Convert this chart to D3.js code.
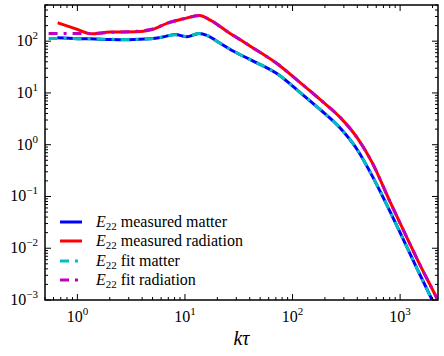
<!DOCTYPE html>
<html><head><meta charset="utf-8">
<script src="https://cdn.jsdelivr.net/npm/d3@7"></script>
<style>html,body{margin:0;padding:0;background:#fff;}svg{display:block;}</style>
</head><body>
<script>
// ---- data ----
const kMeasMatter = [0.65, 1.0, 1.32, 2.0, 3.0, 4.76, 6.2, 8.1, 10.4, 13.5, 16, 19.8, 28.3, 40.5, 71.5, 117, 180, 277, 400, 550, 712, 1000, 1400, 1985, 2400];
const eMeasMatter = [116, 112, 111, 108, 107, 111, 120, 135, 122, 141, 130, 100, 64, 44, 23.7, 10.3, 4.8, 2.1, 0.8, 0.25, 0.087, 0.02, 0.0045, 0.001, 0.00045];
const kMeasRad = [0.656, 1.0, 1.32, 2.02, 3.58, 4.76, 7.3, 9.7, 13.7, 17.2, 24.5, 40.5, 71.5, 117, 180, 280, 400, 550, 789, 1100, 1550, 2233, 2500];
const eMeasRad = [227, 169, 139, 150, 152, 165, 233, 271, 314, 255, 156, 80, 37, 16, 7.5, 3.3, 1.35, 0.45, 0.087, 0.02, 0.0045, 0.001, 0.0006];
const kFitMatter = [0.54, 1.0, 2.0, 3.0, 4.76, 6.2, 8.1, 10.4, 13.5, 16, 19.8, 28.3, 40.5, 71.5, 117, 180, 277, 400, 550, 712, 1000, 1400, 1985, 2400];
const eFitMatter = [113, 112, 109, 108, 111, 120, 133, 124, 140, 130, 100, 64, 44, 23.7, 10.3, 4.8, 2.1, 0.8, 0.25, 0.087, 0.02, 0.0045, 0.001, 0.00045];
const kFitRad = [0.54, 1.0, 1.32, 2.02, 3.58, 4.76, 7.3, 9.7, 13.7, 17.2, 24.5, 40.5, 71.5, 117, 180, 280, 400, 550, 789, 1100, 1550, 2233, 2500];
const eFitRad = [141, 140, 140, 148, 155, 168, 232, 270, 312, 255, 156, 80, 37, 16, 7.5, 3.3, 1.35, 0.45, 0.087, 0.02, 0.0045, 0.001, 0.0006];
const xTickExps = [0, 1, 2, 3];
const yTickExps = [-3, -2, -1, 0, 1, 2];
const legendLabels = ["measured matter", "measured radiation", "fit matter", "fit radiation"];
const seriesColors = ["#0000ff", "#ff0000", "#00bfbf", "#bf00bf"];

const W = 444, H = 356;
const m = {left: 45, right: 438, top: 5, bottom: 300};
const svg = d3.select("body").append("svg").attr("width", W).attr("height", H);
const x = d3.scaleLog().domain([0.5, 2250]).range([m.left, m.right]);
const y = d3.scaleLog().domain([1e-3, 500]).range([m.bottom, m.top]);

svg.append("clipPath").attr("id", "clip").append("rect")
  .attr("x", m.left).attr("y", m.top).attr("width", m.right - m.left).attr("height", m.bottom - m.top);

const dashDot = "9,6,3,6";
const series = [
  {k: kMeasMatter, e: eMeasMatter, dash: null},
  {k: kMeasRad, e: eMeasRad, dash: null},
  {k: kFitMatter, e: eFitMatter, dash: dashDot},
  {k: kFitRad, e: eFitRad, dash: dashDot}
];
const line = d3.line().x(d => x(d[0])).y(d => y(d[1])).curve(d3.curveMonotoneX);
const g = svg.append("g").attr("clip-path", "url(#clip)");
series.forEach((s, i) => {
  g.append("path").datum(s.k.map((k, j) => [k, s.e[j]]))
    .attr("d", line).attr("fill", "none").attr("stroke", seriesColors[i])
    .attr("stroke-width", 3).attr("stroke-dasharray", s.dash);
});

// ticks (inward on all four sides)
const font = "'Liberation Serif', 'DejaVu Serif', serif";
const tk = svg.append("g").attr("stroke", "#000").attr("stroke-width", 1);
function minorList(lo, hi) {
  const out = [];
  for (let e = Math.floor(Math.log10(lo)); e <= Math.ceil(Math.log10(hi)); e++)
    for (let d = 1; d <= 9; d++) { const v = d * Math.pow(10, e); if (v >= lo && v <= hi) out.push([v, d === 1]); }
  return out;
}
minorList(0.5, 2250).forEach(([v, major]) => {
  const len = major ? 6 : 3, px = x(v);
  tk.append("line").attr("x1", px).attr("x2", px).attr("y1", m.bottom).attr("y2", m.bottom - len);
  tk.append("line").attr("x1", px).attr("x2", px).attr("y1", m.top).attr("y2", m.top + len);
});
minorList(1e-3, 500).forEach(([v, major]) => {
  const len = major ? 6 : 3, py = y(v);
  tk.append("line").attr("y1", py).attr("y2", py).attr("x1", m.left).attr("x2", m.left + len);
  tk.append("line").attr("y1", py).attr("y2", py).attr("x1", m.right).attr("x2", m.right - len);
});

svg.append("rect").attr("x", m.left).attr("y", m.top).attr("width", m.right - m.left).attr("height", m.bottom - m.top)
  .attr("fill", "none").attr("stroke", "#000").attr("stroke-width", 1.5);

function expLabel(sel, e) {
  sel.append("tspan").text("10");
  sel.append("tspan").attr("font-size", 11).attr("dy", -7).text(e < 0 ? "\u2212" + (-e) : String(e));
}
xTickExps.forEach(e => {
  const t = svg.append("text").attr("x", x(Math.pow(10, e))).attr("y", 322)
    .attr("text-anchor", "middle").attr("font-family", font).attr("font-size", 16);
  expLabel(t, e);
});
yTickExps.forEach(e => {
  const t = svg.append("text").attr("x", 38).attr("y", y(Math.pow(10, e)) + 5)
    .attr("text-anchor", "end").attr("font-family", font).attr("font-size", 16);
  expLabel(t, e);
});

// x label
const xl = svg.append("text").attr("x", (m.left + m.right) / 2).attr("y", 345)
  .attr("text-anchor", "middle").attr("font-family", font).attr("font-size", 20).attr("font-style", "italic");
xl.text("k\u03C4");

// legend
const legY = [222, 241, 261, 280];
legendLabels.forEach((lab, i) => {
  svg.append("line").attr("x1", 60).attr("x2", 82).attr("y1", legY[i]).attr("y2", legY[i])
    .attr("stroke", seriesColors[i]).attr("stroke-width", 3).attr("stroke-dasharray", series[i].dash);
  const t = svg.append("text").attr("x", 96).attr("y", legY[i] + 5).attr("font-family", font).attr("font-size", 16);
  t.append("tspan").attr("font-style", "italic").text("E");
  t.append("tspan").attr("font-size", 11).attr("dy", 3).text("22");
  t.append("tspan").attr("dy", -3).text(" " + lab);
});
</script>
</body></html>
